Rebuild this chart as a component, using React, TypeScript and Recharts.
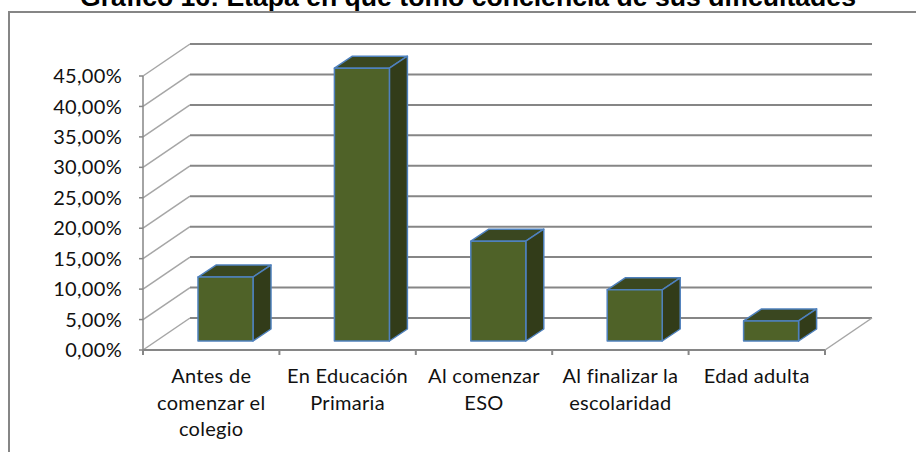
import React from 'react';
import { BarChart, Bar, XAxis, YAxis, CartesianGrid } from 'recharts';

const categories = ['Antes de|comenzar el|colegio', 'En Educación|Primaria', 'Al comenzar|ESO', 'Al finalizar la|escolaridad', 'Edad adulta'];
const values = [10.5, 44.8, 16.4, 8.4, 3.3];
const yTicks = [0, 5, 10, 15, 20, 25, 30, 35, 40, 45];
const title = 'Gráfico 16: Etapa en que tomó conciencia de sus dificultades';

const data = categories.map((name, i) => ({ name, value: values[i] }));

const W = 916, H = 452;
const plot = { left: 143, right: 825, top: 76, bottom: 350 };
const back = { dx: 47, dy: -32 };
const barOff = { dx: 14, dy: -9 };
const depth = { dx: 18, dy: -12 };
const GRID = '#868686';
const FONT = 'Lato, Carlito, sans-serif';

const GridLine = (p: any) => {
  const { x1, x2, y1 } = p;
  const isFloor = Math.abs(y1 - plot.bottom) < 1;
  return (
    <g>
      <line x1={x1} y1={y1} x2={x1 + back.dx} y2={y1 + back.dy} stroke="#a6a6a6" strokeWidth={1.5} />
      <line x1={x1 + back.dx} y1={y1 + back.dy} x2={x2 + back.dx} y2={y1 + back.dy} stroke={GRID} strokeWidth={2} />
      {isFloor && <line x1={x2} y1={y1} x2={x2 + back.dx} y2={y1 + back.dy} stroke="#a6a6a6" strokeWidth={1.5} />}
    </g>
  );
};

const Box = (p: any) => {
  const x = p.x + barOff.dx, y = p.y + barOff.dy, w = p.width, h = p.height;
  const { dx, dy } = depth;
  const st = { stroke: '#4F81BD', strokeWidth: 1.5, strokeLinejoin: 'round' as const };
  return (
    <g>
      <path d={`M${x},${y}L${x + dx},${y + dy}L${x + w + dx},${y + dy}L${x + w},${y}Z`} fill="#3A4720" {...st} />
      <path d={`M${x + w},${y}L${x + w + dx},${y + dy}L${x + w + dx},${y + h + dy}L${x + w},${y + h}Z`} fill="#323C19" {...st} />
      <rect x={x} y={y} width={w} height={h} fill="#4F6228" {...st} />
    </g>
  );
};

const CatTick = (p: any) => {
  const lines = String(p.payload.value).split('|');
  const band = (plot.right - plot.left) / categories.length;
  const first = p.index === 0;
  return (
    <g>
      {first && <line x1={p.x - band / 2} y1={plot.bottom} x2={p.x - band / 2} y2={plot.bottom + 5} stroke={GRID} strokeWidth={2} />}
      <line x1={p.x + band / 2} y1={plot.bottom} x2={p.x + band / 2} y2={plot.bottom + 5} stroke={GRID} strokeWidth={2} />
      <text x={p.x} y={383} textAnchor="middle" fontFamily={FONT} fontSize={20} letterSpacing={0.3} fill="#111">
        {lines.map((l: string, i: number) => (
          <tspan key={i} x={p.x} y={383 + i * 26.5}>{l}</tspan>
        ))}
      </text>
    </g>
  );
};

const fmt = (v: number) => `${v.toFixed(2).replace('.', ',')}%`;

export default function App() {
  return (
    <div style={{ position: 'fixed', left: 0, top: 0, width: W, height: H, background: '#fff', overflow: 'hidden' }}>
      <div style={{ position: 'absolute', left: 8, top: 11, width: W, height: H, borderLeft: `2px solid ${GRID}`, borderTop: `2px solid ${GRID}` }} />
      <div style={{ position: 'absolute', left: 0, width: 936, top: -18, textAlign: 'center', fontFamily: '"Liberation Sans", Arial, sans-serif', fontWeight: 700, fontSize: 26.6, lineHeight: '30px', color: '#000', whiteSpace: 'nowrap' }}>{title}</div>
      <BarChart
        style={{ position: 'absolute', left: 0, top: 0 }}
        width={W}
        height={H}
        data={data}
        barSize={55}
        margin={{ left: 0, right: W - plot.right, top: plot.top, bottom: 0 }}
      >
        <CartesianGrid vertical={false} horizontal={GridLine as any} />
        <XAxis dataKey="name" tick={CatTick} interval={0} height={H - plot.bottom} stroke={GRID} strokeWidth={2}
          tickLine={false} tickSize={5} />
        <YAxis domain={[0, 45]} ticks={yTicks} width={plot.left} tickFormatter={fmt} interval={0}
          tick={{ fontFamily: FONT, fontSize: 20, letterSpacing: 0.3, fill: '#111' }} stroke={GRID} strokeWidth={1.5}
          tickLine={{ stroke: GRID, strokeWidth: 1.5 }} tickSize={4} tickMargin={17} />
        <Bar dataKey="value" shape={Box} isAnimationActive={false} />
      </BarChart>
    </div>
  );
}
